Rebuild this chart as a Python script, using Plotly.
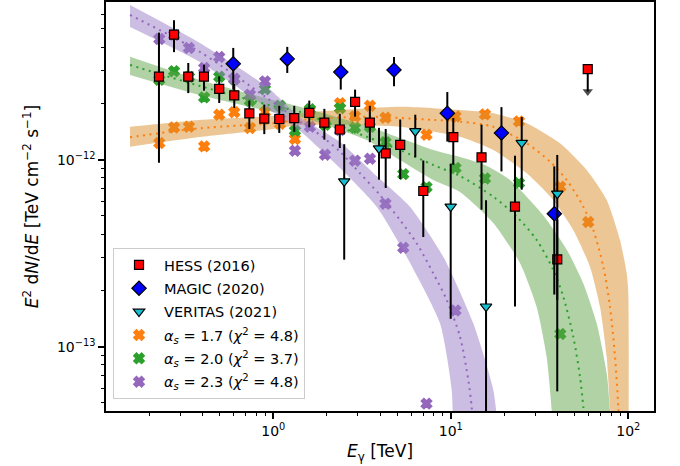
import numpy as np
import plotly.graph_objects as go

S = 1e-12  # flux unit

# ---------------- data points ----------------
hess_E = [0.227, 0.276, 0.332, 0.407, 0.496, 0.603, 0.733, 0.890, 1.081, 1.313, 1.595,
          1.94, 2.37, 2.89, 3.50, 4.30, 5.19, 7.00, 10.33, 14.9, 23.0, 39.8]
hess_y = [2.78, 4.66, 2.78, 2.78, 2.39, 2.21, 1.77, 1.66, 1.65, 1.67, 1.78,
          1.58, 1.45, 2.04, 1.58, 1.08, 1.20, 0.68, 1.32, 1.03, 0.561, 0.293]
hess_hi = [4.78, 5.57, 3.29, 3.22, 2.79, 2.54, 2.07, 1.97, 1.94, 1.94, 2.07,
           1.87, 1.76, 2.37, 1.94, 1.46, 1.64, 0.99, 1.67, 1.54, 1.05, 0.476]
hess_lo = [0.963, 3.76, 2.27, 2.34, 2.01, 1.89, 1.46, 1.37, 1.39, 1.41, 1.49,
           1.28, 1.155, 1.70, 1.24, 0.706, 0.788, 0.386, 0.94, 0.54, 0.164, 0.178]
hess_ul_E = [59.1]
hess_ul_y = [3.05]

magic_E = [0.595, 1.199, 2.40, 4.79, 9.56, 19.3, 38.3]
magic_y = [3.26, 3.46, 2.94, 3.02, 1.77, 1.39, 0.514]
magic_hi = [3.96, 4.01, 3.46, 3.54, 2.30, 1.91, 0.921]
magic_lo = [2.37, 2.91, 2.37, 2.47, 1.25, 0.866, 0.19]

veritas_E = [2.51, 3.94, 6.31, 9.99, 15.8, 25.1, 39.8]
veritas_y = [0.766, 1.149, 1.42, 0.561, 0.164, 1.23, 0.658]
veritas_hi = [1.21, 1.48, 1.74, 0.952, 0.606, 1.69, 1.06]
veritas_lo = [0.292, 0.782, 1.03, 0.141, 0.02, 0.691, 0.0577]

# ---------------- model points ----------------
m17_E = [0.228, 0.276, 0.335, 0.408, 0.496, 0.603, 0.739, 0.898, 1.091, 1.325, 1.609,
         1.956, 2.376, 2.886, 3.506, 4.287, 7.30, 10.63, 15.58, 24.23, 41.4, 59.5]
m17_y = [1.228, 1.488, 1.501, 1.178, 1.740, 1.795, 1.477, 1.799, 1.557, 1.290, 1.835,
         1.552, 2.005, 1.704, 1.944, 1.677, 1.360, 1.704, 1.747, 1.603, 0.717, 0.464]
m20_E = [0.228, 0.276, 0.335, 0.408, 0.496, 0.603, 0.739, 0.898, 1.091, 1.325, 1.609,
         1.956, 2.376, 2.886, 3.506, 4.287, 5.40, 7.30, 10.63, 15.58, 24.23, 41.4]
m20_y = [2.678, 2.974, 2.77, 2.154, 2.779, 2.695, 2.068, 2.382, 1.944, 1.429, 1.862,
         1.539, 1.885, 1.483, 1.50, 1.240, 0.837, 0.713, 0.903, 0.794, 0.750, 0.117]
m23_E = [0.228, 0.276, 0.335, 0.408, 0.496, 0.603, 0.739, 0.898, 1.091, 1.325, 1.609,
         1.956, 2.376, 2.886, 3.506, 4.287, 5.40, 7.30, 10.63]
m23_y = [4.42, 4.65, 3.957, 3.093, 3.542, 2.712, 2.227, 2.623, 1.65, 1.117, 1.501,
         1.063, 1.44, 0.988, 1.012, 0.582, 0.338, 0.0496, 0.156]

# ---------------- model curves ----------------
c17_E = [0.156, 0.386, 0.996, 1.414, 3.359, 7.968, 11.27, 17.36, 26.77, 36.23, 44.98,
         55.79, 63.50, 72.32, 78.89, 84.18, 87.87, 89.81]
c17_y = [1.318, 1.472, 1.566, 1.631, 1.698, 1.631, 1.597, 1.501, 1.224, 0.976, 0.779,
         0.561, 0.421, 0.268, 0.1636, 0.0884, 0.0478, 0.0317]
b17_up_E = [0.156, 0.386, 0.996, 1.414, 5.172, 11.27, 17.36, 26.77, 41.23, 58.31, 75.58,
            89.81, 97.95, 100, 100]
b17_up_y = [1.501, 1.631, 1.713, 1.777, 1.920, 1.844, 1.771, 1.566, 1.224, 0.881, 0.609,
            0.372, 0.247, 0.1937, 0.01]
b17_lo_E = [0.156, 0.386, 0.996, 1.414, 5.172, 11.27, 17.36, 26.77, 37.81, 48.98, 60.84,
            69.29, 75.58, 78.89, 82.0]
b17_lo_y = [1.174, 1.323, 1.459, 1.533, 1.501, 1.327, 1.127, 0.846, 0.609, 0.421, 0.268,
            0.1636, 0.0884, 0.0478, 0.0317]

c20_E = [0.156, 0.386, 0.996, 1.414, 2.169, 3.359, 5.172, 7.968, 11.27, 17.36, 23.51,
         30.48, 37.81, 43.03, 48.98, 53.45, 55.79, 57.77]
c20_y = [3.21, 2.478, 1.937, 1.806, 1.533, 1.327, 1.127, 0.937, 0.818, 0.634, 0.496,
         0.372, 0.257, 0.185, 0.1131, 0.0691, 0.0478, 0.0317]
b20_up_E = [0.156, 0.386, 0.996, 1.414, 3.359, 7.968, 11.27, 15.58, 21.56, 33.07, 45.14,
            55.79, 66.37, 75.58, 78.89, 80.93]
b20_up_y = [3.555, 2.668, 2.086, 1.920, 1.514, 1.127, 1.034, 0.937, 0.779, 0.506, 0.329,
            0.218, 0.1334, 0.0721, 0.0459, 0.0317]
b20_lo_E = [0.156, 0.386, 0.996, 1.414, 3.359, 5.172, 7.968, 11.27, 17.36, 24.54, 30.48,
            34.70, 37.03, 37.65]
b20_lo_y = [2.838, 2.218, 1.799, 1.698, 1.274, 0.996, 0.779, 0.672, 0.459, 0.280, 0.163,
            0.0881, 0.0459, 0.0317]

c23_E = [0.156, 0.386, 0.922, 1.414, 1.833, 2.376, 3.079, 3.992, 5.172, 6.427, 7.968,
         9.482, 11.27, 12.55, 13.11, 13.51]
c23_y = [5.94, 3.77, 2.138, 1.597, 1.356, 1.104, 0.846, 0.647, 0.476, 0.357, 0.247,
         0.178, 0.1131, 0.0664, 0.0478, 0.0317]
b23_up_E = [0.156, 0.386, 0.922, 1.414, 2.376, 3.824, 5.890, 9.074, 13.39, 17.36, 18.69]
b23_up_y = [6.72, 4.21, 2.448, 1.692, 1.244, 0.818, 0.561, 0.303, 0.1334, 0.0587, 0.0317]
b23_lo_E = [0.156, 0.386, 0.922, 1.414, 2.376, 3.824, 5.643, 8.694, 10.12, 10.29]
b23_lo_y = [5.125, 3.33, 1.890, 1.424, 0.903, 0.561, 0.303, 0.1334, 0.0587, 0.0317]

x_ticks = [1, 10, 100]
x_ticktext = ["10<sup>0</sup>", "10<sup>1</sup>", "10<sup>2</sup>"]
y_ticks = [1e-13, 1e-12]
y_ticktext = ["10<sup>−13</sup>", "10<sup>−12</sup>"]

labels = ["HESS (2016)", "MAGIC (2020)", "VERITAS (2021)",
          "<i>α<sub>s</sub></i> = 1.7 (<i>χ</i><sup>2</sup> = 4.8)",
          "<i>α<sub>s</sub></i> = 2.0 (<i>χ</i><sup>2</sup> = 3.7)",
          "<i>α<sub>s</sub></i> = 2.3 (<i>χ</i><sup>2</sup> = 4.8)"]

C_OR, C_GR, C_PU = "#ff7f0e", "#2ca02c", "#9467bd"
BAND_OR = "rgba(217,141,41,0.5)"
BAND_GR = "rgba(97,165,75,0.5)"
BAND_PU = "rgba(153,125,197,0.5)"

def sc(v):
    return [a * S for a in v]

fig = go.Figure()

# model points (drawn first, bands over them)
for E, y, col, lab, rank in [(m17_E, m17_y, C_OR, labels[3], 4),
                             (m20_E, m20_y, C_GR, labels[4], 5),
                             (m23_E, m23_y, C_PU, labels[5], 6)]:
    fig.add_trace(go.Scatter(x=E, y=sc(y), mode="markers", name=lab, legendrank=rank,
                             legendgroup=lab,
                             marker=dict(symbol="x", size=9, color=col,
                                         line=dict(width=1.6, color=col))))

# bands
for upE, upY, loE, loY, bc in [(b17_up_E, b17_up_y, b17_lo_E, b17_lo_y, BAND_OR),
                               (b20_up_E, b20_up_y, b20_lo_E, b20_lo_y, BAND_GR),
                               (b23_up_E, b23_up_y, b23_lo_E, b23_lo_y, BAND_PU)]:
    fig.add_trace(go.Scatter(x=upE, y=sc(upY), mode="lines", showlegend=False,
                             line=dict(width=0, shape="spline", smoothing=0.6),
                             hoverinfo="skip"))
    fig.add_trace(go.Scatter(x=loE, y=sc(loY), mode="lines", showlegend=False,
                             line=dict(width=0, shape="spline", smoothing=0.6),
                             fill="tonexty", fillcolor=bc, hoverinfo="skip"))

# best-fit dotted curves
for E, y, col in [(c17_E, c17_y, C_OR), (c20_E, c20_y, C_GR), (c23_E, c23_y, C_PU)]:
    fig.add_trace(go.Scatter(x=E, y=sc(y), mode="lines", showlegend=False,
                             line=dict(color=col, width=2, dash="2px,4.5px",
                                       shape="spline", smoothing=0.8)))

def err(y, hi, lo):
    y, hi, lo = np.array(y), np.array(hi), np.array(lo)
    return dict(type="data", symmetric=False, array=(hi - y) * S,
                arrayminus=(y - lo) * S, color="black", thickness=2, width=0)

fig.add_trace(go.Scatter(x=hess_E, y=sc(hess_y), mode="markers", name=labels[0],
                         legendrank=1, legendgroup=labels[0],
                         error_y=err(hess_y, hess_hi, hess_lo),
                         marker=dict(symbol="square", size=9, color="red",
                                     line=dict(color="black", width=1.2))))
# upper limit
ul_frac = 0.76
fig.add_trace(go.Scatter(x=[hess_ul_E[0], hess_ul_E[0]],
                         y=[hess_ul_y[0] * S, hess_ul_y[0] * S * ul_frac],
                         mode="lines+markers", showlegend=False,
                         line=dict(color="black", width=2),
                         marker=dict(symbol=["square", "triangle-down"], size=[0, 9],
                                     color="black", line=dict(width=0))))
fig.add_trace(go.Scatter(x=hess_ul_E, y=sc(hess_ul_y), mode="markers", showlegend=False,
                         marker=dict(symbol="square", size=9, color="red",
                                     line=dict(color="black", width=1.2))))

fig.add_trace(go.Scatter(x=magic_E, y=sc(magic_y), mode="markers", name=labels[1],
                         legendrank=2, legendgroup=labels[1],
                         error_y=err(magic_y, magic_hi, magic_lo),
                         marker=dict(symbol="diamond", size=11, color="blue",
                                     line=dict(color="black", width=1.2))))
fig.add_trace(go.Scatter(x=veritas_E, y=sc(veritas_y), mode="markers", name=labels[2],
                         legendrank=3, legendgroup=labels[2],
                         error_y=err(veritas_y, veritas_hi, veritas_lo),
                         marker=dict(symbol="triangle-down", size=10, color="#17becf",
                                     line=dict(color="black", width=1.2))))

x_minor = [m * 10.0 ** k for k in (-1, 0, 1) for m in range(2, 10)]
y_minor = [m * 10.0 ** k for k in (-14, -13, -12) for m in range(2, 10)]
y_minor = [v for v in y_minor if 4.53e-14 < v < 6.97e-12]

fig.update_xaxes(type="log", range=[np.log10(0.1142), np.log10(139.6)], automargin=False,
                 showline=True, mirror=True, linecolor="black", linewidth=1.6,
                 ticks="outside", ticklen=6, tickwidth=1.6, tickcolor="black",
                 tickmode="array", tickvals=x_ticks, ticktext=x_ticktext,
                 showgrid=False, zeroline=False,
                 minor=dict(tickmode="array", tickvals=x_minor, ticks="outside",
                            ticklen=3.5, tickwidth=1.1, tickcolor="black", showgrid=False),
                 title=dict(text="<i>E</i><sub>γ</sub> [TeV]", standoff=8))
fig.update_yaxes(type="log", range=[np.log10(4.53e-14), np.log10(6.97e-12)], automargin=False,
                 showline=True, mirror=True, linecolor="black", linewidth=1.6,
                 ticks="outside", ticklen=6, tickwidth=1.6, tickcolor="black",
                 tickmode="array", tickvals=y_ticks, ticktext=y_ticktext,
                 showgrid=False, zeroline=False,
                 minor=dict(tickmode="array", tickvals=y_minor, ticks="outside",
                            ticklen=3.5, tickwidth=1.1, tickcolor="black", showgrid=False),
                 title=dict(text="<i>E</i><sup>2</sup> d<i>N</i>/d<i>E</i> [TeV cm<sup>−2</sup> s<sup>−1</sup>]",
                            standoff=14))

fig.update_layout(
    width=680, height=466,
    margin=dict(l=106, r=26, t=2, b=55, autoexpand=False),
    paper_bgcolor="white", plot_bgcolor="white",
    font=dict(family="DejaVu Sans", size=14, color="black"),
    legend=dict(x=0.0128, y=0.3985, xanchor="left", yanchor="top",
                bgcolor="rgba(255,255,255,0.85)", bordercolor="#cccccc", borderwidth=1,
                font=dict(size=14.5), traceorder="grouped", tracegroupgap=1.5,
                itemwidth=40),
    showlegend=True,
)

fig.write_html("out.html", config={"displayModeBar": False},
               post_script="document.body.style.margin='0';document.body.style.padding='0';")
